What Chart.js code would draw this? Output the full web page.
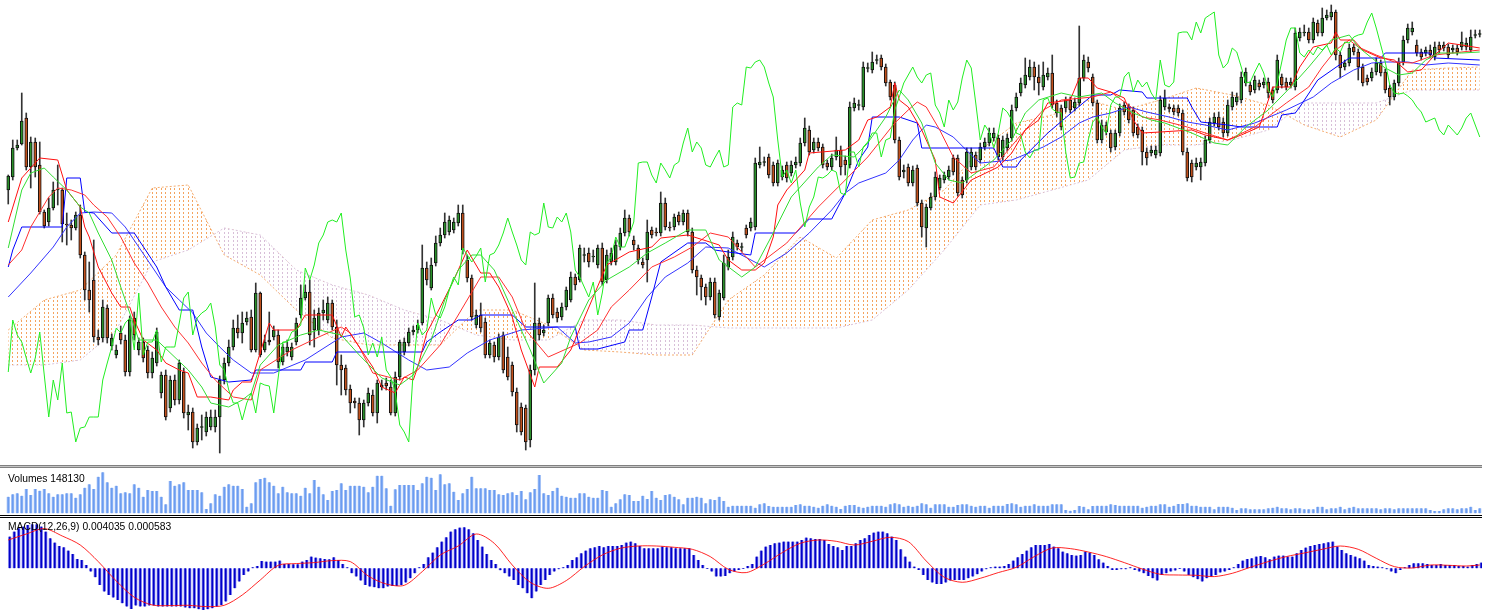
<!DOCTYPE html>
<html><head><meta charset="utf-8">
<script src="https://cdn.jsdelivr.net/npm/chart.js@4.4.1/dist/chart.umd.min.js"></script>
<style>
html,body{margin:0;padding:0;background:#fff;}
#wrap{position:relative;width:1493px;height:613px;overflow:hidden;background:#fff;}
canvas{position:absolute;left:0;}
.sep{position:absolute;left:0;width:1482px;height:1px;}
.lbl{position:absolute;left:8px;font:10.3px "Liberation Sans",Arial,sans-serif;color:#000;white-space:nowrap;z-index:5;line-height:12px;}
</style></head><body>
<div id="wrap">
<canvas id="main" width="1482" height="463" style="top:0"></canvas>
<div class="sep" style="top:465px;background:#808080"></div>
<div class="sep" style="top:466px;background:#c4c4c4"></div>
<div class="sep" style="top:467px;background:#808080"></div>
<canvas id="vol" width="1482" height="46" style="top:468px"></canvas>
<div class="sep" style="top:515px;background:#000"></div>
<div class="sep" style="top:517px;background:#000"></div>
<canvas id="macd" width="1482" height="95" style="top:518px"></canvas>
<div class="lbl" style="top:473px">Volumes 148130</div>
<div class="lbl" style="top:521px">MACD(12,26,9) 0.004035 0.000583</div>
</div>
<script>
const N = 328;
const opens = [
310,323,352,356,382,333,358,335,288,278, 292,310,310,276,275,272,285,245,210,220,
163,162,192,154,145,167,160,128,182,150, 158,150,127,137,107,125,92,120,100,128,
85,88,58,73,68,73,73,83,120,137, 153,172,167,178,183,150,207,150,160,163,
165,138,148,143,158,185,202,208,170,170, 187,180,197,173,135,132,111,99,97,80,
97,105,87,113,117,113,87,123,148,157, 168,170,177,232,212,237,257,265,268,270,
277,287,240,222,175,185,178,145,155,143, 165,143,135,108,93,92,60,130,177,167,
177,202,188,183,193,200,223,220,245,247, 243,235,252,220,238,238,253,267,282,260,
252,238,240,270,268,267,297,273,273,285, 278,287,268,230,222,213,203,218,183,202,
233,243,257,253,272,272,273,335,338,343, 335,317,323,335,327,335,337,357,370,350,
358,353,337,333,343,350,340,335,392,395, 393,432,430,440,442,433,418,415,360,328,
333,317,332,297,272,292,303,312,320,323, 342,342,320,320,333,345,340,353,357,362,
362,343,352,362,392,407,415,423,433,423, 413,423,427,397,392,392,400,392,397,422,
438,423,397,360,375,367,353,367,395,393, 390,373,370,348,347,345,347,393,393,392,
392,387,348,337,333,333,337,360,377,383, 378,367,393,398,400,417,415,410,417,415,
418,410,410,423,418,415,413,462,467,468, 460,477,467,482,483,488,445,433,437,453,
448,433,422,422,428,437,428,412,403,417, 438,460,468,455,448,447,450,443,455,452,
453,450,452,453,453,450,465,466];
const closes = [
324,352,355,379,333,358,333,288,274,292, 310,311,276,275,272,285,245,210,200,163,
160,193,162,162,150,160,128,180,165,158, 142,127,142,168,125,83,120,100,137,87,
88,58,72,73,83,83,83,120,137,153, 172,167,177,182,150,207,145,158,158,170,
138,153,153,153,177,202,208,165,182,187, 190,197,173,135,130,110,97,97,80,97,
107,87,117,115,114,87,123,158,158,168, 170,175,232,220,235,257,265,278,280,278,
287,250,222,183,185,172,145,157,143,163, 130,123,108,75,68,58,130,177,165,170,
202,185,182,193,210,223,215,252,245,238, 244,252,218,245,247,255,267,282,268,255,
240,235,268,265,267,297,273,272,283,278, 287,268,230,223,213,203,218,185,207,237,
243,263,253,253,265,278,337,338,338,325, 317,337,330,322,335,338,357,372,348,358,
352,335,333,342,350,333,335,393,397,395, 433,432,438,440,433,417,403,360,323,330,
317,330,297,273,293,303,323,322,325,330, 328,307,305,348,348,333,353,358,367,367,
343,360,362,390,403,417,425,433,423,417, 425,427,395,387,373,400,390,398,422,440,
432,397,360,375,368,352,367,392,388,380, 367,365,348,342,350,350,400,402,391,388,
387,348,322,323,337,338,360,378,383,373, 367,395,403,403,423,428,408,420,413,418,
407,400,440,415,413,418,467,468,468,460, 478,467,482,485,488,445,432,437,452,448,
433,417,418,428,437,427,410,403,417,438, 460,472,472,447,443,450,445,453,450,455,
445,452,448,458,457,463,465,466];
const highs = [
325,360,360,407,387,363,362,358,290,302, 318,335,312,287,280,288,295,248,238,260,
170,200,195,166,155,174,165,184,188,162, 162,154,148,172,128,130,124,125,140,132,
95,92,76,85,88,90,90,124,142,160, 180,185,188,188,190,217,208,165,188,174,
170,156,160,157,182,215,215,220,190,192, 200,203,200,180,145,135,115,102,102,100,
112,110,120,120,122,120,128,160,162,172, 174,180,255,238,242,264,272,287,284,282,
295,295,245,225,190,197,182,160,158,166, 168,153,138,112,97,95,135,217,182,175,
205,206,192,197,213,228,226,255,252,252, 250,255,257,250,252,260,272,290,285,264,
255,242,280,273,272,308,302,278,286,288, 290,290,272,234,225,216,222,222,210,245,
250,268,260,257,275,282,342,353,343,346, 338,340,334,338,339,343,362,382,374,362,
362,356,340,346,363,354,344,398,402,400, 438,437,448,445,445,436,420,418,363,335,
336,334,335,300,296,307,328,325,328,334, 345,345,323,352,352,348,357,362,372,372,
365,364,366,395,407,422,442,440,438,435, 438,432,445,400,395,403,403,402,474,445,
443,426,400,380,378,370,370,396,398,396, 393,376,373,352,354,354,404,410,396,395,
395,390,352,340,342,342,364,382,387,388, 382,400,408,407,428,432,418,424,420,422,
422,413,445,426,422,422,472,472,475,472, 482,480,492,490,495,490,448,440,456,456,
451,436,425,432,442,440,431,415,420,442, 464,476,478,460,451,453,455,458,458,458,
456,455,455,468,462,470,470,470];
const lows = [
296,320,350,355,330,312,323,286,272,274, 290,295,258,255,260,270,242,200,188,158,
155,158,157,150,142,156,124,124,160,145, 138,122,122,134,102,80,88,95,96,82,
70,52,55,60,64,70,68,47,116,134, 150,162,157,175,148,148,143,148,155,160,
132,135,144,140,155,182,200,155,153,165, 180,177,170,115,105,105,87,92,65,73,
94,84,77,110,110,85,84,120,145,154, 165,167,175,215,210,234,254,262,265,267,
274,246,218,180,172,168,142,142,138,140, 127,120,104,68,65,50,53,125,160,164,
174,182,178,180,190,198,210,218,238,233, 238,232,215,217,235,235,250,264,264,250,
236,232,218,262,264,264,270,269,270,275, 275,264,227,205,200,195,200,182,180,200,
230,240,250,248,262,269,270,332,334,322, 314,314,320,318,324,332,334,354,345,347,
349,332,330,330,340,325,325,332,389,390, 390,428,427,436,430,414,400,357,320,322,
314,314,294,263,253,290,300,310,317,320, 325,304,302,317,330,330,337,350,354,359,
340,340,349,359,389,404,412,420,410,405, 410,420,392,383,370,388,387,389,394,419,
428,394,357,357,365,348,350,364,385,377, 364,362,335,335,344,342,344,390,388,385,
384,345,319,318,330,320,334,357,374,370, 363,364,390,395,397,414,405,407,410,412,
402,397,407,412,410,412,410,459,464,457, 457,464,464,480,480,440,422,430,434,445,
420,414,415,419,425,424,407,395,400,414, 435,457,465,444,440,444,442,440,447,449,
442,447,445,450,450,448,462,463];
// Chikou span (lagging line)
const chikou = [
128,180,165,158, 142,127,142,168,125,83,120,100,137,87,
88,58,72,73,83,83,83,120,137,153, 172,167,177,182,150,207,145,158,158,170,
138,153,153,153,177,202,208,165,182,187, 190,197,173,135,130,110,97,97,80,97,
107,87,117,115,114,87,123,158,158,168, 170,175,232,220,235,257,265,278,280,278,
287,250,222,183,185,172,145,157,143,163, 130,123,108,75,68,58,130,177,165,170,
202,185,182,193,210,223,215,252,245,238, 244,252,218,245,247,255,267,282,268,255,
240,235,268,265,267,297,273,272,283,278, 287,268,230,223,213,203,218,185,207,237,
243,263,253,253,265,278,337,338,338,325, 317,337,330,322,335,338,357,372,348,358,
352,335,333,342,350,333,335,393,397,395, 433,432,438,440,433,417,403,360,323,330,
317,330,297,273,293,303,323,322,325,330, 328,307,305,348,348,333,353,358,367,367,
343,360,362,390,403,417,425,433,423,417, 425,427,395,387,373,400,390,398,422,440,
432,397,360,375,368,352,367,392,388,380, 367,365,348,342,350,350,400,402,391,388,
387,348,322,323,337,338,360,378,383,373, 367,395,403,403,423,428,408,420,413,418,
407,400,440,415,413,418,467,468,468,460, 478,467,482,485,488,445,432,437,452,448,
433,417,418,428,437,427,410,403,417,438, 460,472,472,447,443,450,445,453,450,455,
445,452,448,458,457,463,465,466,
478,487,472,455,438,415,407,406,407,404,400,393,388,378,380,382,370,365,375,370,365,372,382,387,375,363];

// Indicator lines: vertices (bar index, value)
const tenkanIdx = [0,3,7,11,13,16,17,18,20,23,25,27,28,30,33,35,38,40,42,45,49,50,52,54,58,59,64,66,72,74,75,81,83,86,88,90,91,93,96,99,102,105,107,109,112,114,117,118,122,125,133,138,143,145,151,158,160,163,166,168,170,171,173,177,178,186,189,191,193,196,197,198,200,203,206,207,210,214,220,223,226,229,231,236,238,240,242,245,248,250,252,256,263,266,271,274,278,281,285,287,290,294,295,296,299,301,305,308,311,314,317,320,323,327];
const tenkan = [278,322,342,340,310,293,273,263,233,207,193,193,180,160,150,137,130,127,103,103,100,110,118,118,177,170,170,185,185,163,173,133,113,107,123,120,133,167,193,220,250,227,227,213,183,150,113,133,133,150,235,248,253,262,265,255,240,230,230,237,263,295,310,330,347,350,360,380,383,393,417,400,393,370,340,303,297,320,333,347,370,380,397,400,422,422,412,408,402,380,367,368,370,365,360,365,373,413,413,433,453,457,468,460,460,450,442,440,428,430,445,457,455,452];
const kijunIdx = [0,1,3,12,13,16,17,19,23,28,33,35,38,41,43,45,49,54,55,65,66,72,73,92,93,96,100,103,105,112,115,126,127,131,137,138,141,143,145,151,155,157,160,165,166,175,178,183,186,189,191,192,198,202,203,219,221,224,225,231,237,241,245,247,252,253,262,263,265,271,274,282,283,286,287,291,298,305,306,316,317,327];
const kijun = [233,250,273,273,322,322,288,287,267,267,233,213,190,190,153,123,118,120,130,130,138,138,148,148,158,168,180,180,185,185,173,173,151,151,158,170,170,203,238,257,257,250,248,245,267,267,281,281,307,340,353,383,383,377,352,352,333,333,340,367,390,405,405,410,408,402,402,393,378,375,373,373,385,387,393,420,442,442,447,447,442,440];
const maGreenIdx = [0,3,5,8,10,13,16,18,20,23,25,27,29,33,40,43,45,49,52,54,56,60,65,69,74,78,83,87,90,94,97,100,103,105,108,112,116,119,123,125,129,133,138,142,146,151,155,158,163,166,170,174,180,183,188,191,195,198,200,203,206,209,212,219,223,226,229,234,238,243,246,250,254,257,263,268,271,275,280,285,289,294,298,300,303,306,309,312,315,318,323,327];
const maGreen = [252,310,327,332,323,310,293,287,267,240,213,187,160,160,130,113,97,93,100,107,135,155,165,170,165,145,122,115,125,160,200,230,245,245,230,190,150,117,137,163,200,220,233,247,257,270,270,240,223,233,267,303,333,345,343,357,383,410,400,377,337,320,317,340,360,387,400,407,403,407,397,387,380,377,367,357,355,373,390,413,433,460,465,453,442,432,425,427,440,447,447,448];
const maRedIdx = [0,3,5,9,11,14,17,19,22,25,28,31,34,37,40,43,46,50,54,56,63,69,74,76,78,81,87,91,96,100,105,109,112,115,120,127,131,134,138,143,148,152,156,160,166,173,180,186,191,197,200,202,204,207,210,214,219,226,230,234,241,245,249,252,256,262,266,271,277,284,289,292,295,298,300,304,308,312,317,321,327];
const maRed = [235,250,273,303,312,310,305,295,283,263,237,217,193,173,157,137,120,103,100,130,150,163,173,167,153,127,120,130,155,185,223,223,203,170,143,157,170,193,210,233,243,253,267,263,233,257,293,320,343,377,390,398,393,370,343,327,333,370,390,400,403,408,395,383,380,373,367,360,373,397,413,433,450,460,453,445,438,437,445,447,450];
const maBlueIdx = [0,5,10,13,16,19,23,26,29,32,35,38,41,44,47,50,54,59,66,74,79,83,89,93,98,102,107,114,122,126,129,134,138,142,146,151,155,160,168,173,178,183,186,189,195,198,201,204,206,210,214,216,223,230,234,238,241,245,249,253,258,262,266,271,277,284,290,294,299,303,306,311,315,320,327];
const maBlue = [203,227,253,273,287,288,287,273,253,233,213,200,187,167,153,140,127,127,140,163,167,157,140,130,133,147,160,170,173,157,158,163,177,203,223,237,253,252,233,247,267,290,307,317,327,340,360,375,373,363,345,337,340,353,363,377,383,387,393,388,383,378,375,370,377,390,403,417,430,437,438,438,435,437,435];
// Ichimoku cloud spans, sampled every 8 bars (+ last bar)
const spanIdx = [0,8,16,24,32,40,48,56,64,72,80,88,96,104,112,120,128,136,144,152,160,168,176,184,192,200,208,216,224,232,240,248,256,264,272,280,288,296,304,312,320,327];
const spanA = [170,200,210,245,312,315,245,225,190,162,155,155,155,190,190,175,150,148,145,145,200,225,263,242,280,290,310,350,377,385,400,390,400,412,405,395,375,363,380,430,432,433];
const spanB = [135,135,140,170,238,250,272,265,230,215,205,190,180,165,160,160,180,180,175,175,172,172,172,172,180,210,250,295,300,310,320,350,355,355,360,370,397,397,397,410,410,410];

const volumes = [
500,570,600,530,730,550,730,680,730,600, 500,570,570,600,600,470,570,770,870,730,
1100,1230,930,770,830,600,630,600,870,770, 500,700,670,670,500,270,970,830,870,930,
700,700,700,630,130,300,570,530,800,870, 830,830,730,200,300,930,1030,1070,930,830,
600,800,630,600,600,530,770,600,1000,800, 570,400,670,700,900,700,830,830,830,800,
630,800,1130,1130,750,230,720,850,850,850, 850,700,900,1100,1070,700,1170,870,900,650,
400,600,730,1100,750,750,750,700,700,570,
550,600,630,550,670,420,630,730,1150,600, 550,670,770,530,500,470,470,600,600,500,
470,470,700,670,200,300,420,570,550,370, 370,530,430,670,470,400,550,570,500,420,
270,470,470,500,470,300,420,400,500,370, 200,
230,230,230,230,230,170,270,300,220,200, 200,200,200,200,250,270,230,230,200,170,
230,270,230,200,130,230,250,250,200,170, 200,230,230,230,200,270,300,270,200,230,
200,230,300,270,170,270,270,270,200,200, 250,270,270,230,200,230,230,170,230,230,
230,280,300,270,200,230,230,270,230,230, 230,270,270,270,100,80,100,220,200,120,
220,230,230,230,270,250,230,230,230,230, 230,170,200,230,230,270,270,200,230,280,
280,300,230,230,200,200,200,120,200,200, 200,170,100,150,150,120,120,120,120,150,
170,200,150,150,120,150,150,120,120,120, 200,200,120,150,150,200,120,170,200,150,
150,150,150,150,120,150,150,120,150,150, 150,150,150,150,150,100,70,70,120,150,
150,120,150,150,200,100,150];

const macdHist = [
31.7,36.7,40,41.7,43.3,44,44,41.7,36.7,30, 25.7,22.3,21,17.7,14.3,9.3,8.3,3.3,-3.3,-9,
-16.7,-23.3,-26.7,-29.3,-31.7,-35,-38.3,-40.7,-37.3,-38.3, -38.3,-37.3,-37.3,-38.3,-38.3,-38.3,-38.3,-38.3,-38.3,-39.3,
-40,-40,-41,-41.7,-41,-40,-38.3,-36.7,-33.3,-26.7, -20,-13.3,-6.7,-3.3,1,2.3,7.3,6.7,6.7,6.7,
7.7,4.3,4.3,4,4,6.7,8.3,11.7,10.7,10, 9.3,9,11,8.3,4.3,1,-5,-8.3,-12.3,-16.7,
-18.3,-19,-20,-20,-18.3,-17.7,-17.7,-16.7,-14.3,-10, -5,1,4.3,11,15.7,21,26.7,31,36.7,39,
40.7,41,39,35,28.3,21.7,14.3,8.3,4.3,-2,
-5,-8.3,-11.7,-16.7,-20,-25,-30,-23.3,-16.7,-11.7, -6.7,-3.3,-1,1,3.3,8.3,11,15,17.7,20,
21,22.3,21,22.3,22.3,22.3,23.3,25.7,26.7,25, 22.3,20,20,20,20,21.7,21,21,20,20,
20,20,13.3,8.3,3.3,-0.7,-3.3,-8.3,-8.3,-7.7, -5,-3.3,-1.7,-0.7,2.3,4.3,11.7,17.7,21.7,23.3,
25,25.7,26.7,26.7,26.7,26.7,28.3,30.7,30,29.3, 29.3,28.3,24.3,22.3,21,18.3,22.3,22.3,25,28.3,
30,33.3,35.7,36.7,36.7,35,31.7,28.3,19,11.7, 6.7,1.7,-1.7,-6.7,-11.7,-14.3,-15.7,-15.7,-14.3,-12.3,
-11.7,-11.7,-11.7,-10,-8.3,-6,-3.3,-1,1,1.7, 1.7,
2.3,4.3,7.7,11,14.3,17.7,21,23.3,23.3,23.3, 24.3,21.7,20,16.7,15,13.3,12.7,13.3,16.7,15.7,
13.3,9,5.7,2.3,-1.7,-1.7,-1,-1,1,-1.7, -3.3,-5,-7.7,-10,-12.3,-6.7,-5,-3.3,-2.3,-0.7,
-3.3,-6.7,-9,-11,-13.3,-10,-8.3,-6.7,-4.3,-3.3, -1.7,1,4.3,7.7,9.3,10,11.7,12.3,11,9,
11.7,12.7,12.7,11.7,11.7,15,18.3,20.7,22.3,23.3, 24.3,25,26,26.7,21.7,18.3,15,13.3,11.7,10,
7.7,3.3,2.3,1.7,1,-1,-3.3,-5,-1.7,1, 3.3,5,5,5,4.3,3.3,3.3,4.3,3.3,3.3,
3.3,2.3,2.3,1.7,3.3,4.3,5.7];
const signalIdx = [0,4,8,12,16,20,24,28,32,36,40,44,48,52,56,60,64,68,72,76,80,84,88,92,96,100,104,108,112,116,120,124,128,132,136,140,144,148,152,156,160,164,168,172,176,180,184,188,192,196,200,204,208,212,216,220,224,228,232,236,240,244,248,252,256,260,264,268,272,276,280,284,288,292,296,300,304,308,312,316,320,324,327];
const macdSignal = [28.3,34.3,39.7,32.3,23.3,6.7,-12.7,-29,-36.7,-37.3,-37,-38.3,-37,-26.7,-11.7,3,4.7,5.7,7.7,6.7,-7.7,-15.7,-17,-3.3,13.3,22.3,34.3,25,3.3,-14,-20,-12.3,1.7,13.3,20,22.3,22.3,21,19,11.7,-1,-4.3,4.3,15.7,25,28.3,27,23.3,27,31,26.7,7.3,-9,-14,-10,-4.3,1,11.7,20.3,19.7,16.3,11.7,5.7,-0.7,-6,-6.7,-7,-8.3,-5,1,6.7,11.7,15.3,19,22.3,19,10,1.7,0.3,3.3,3,2.3,3.3];

const labels = opens.map((_, i) => String(i));
const pts = (idx, vals) => idx.map((ix, k) => ({x: ix, y: vals[k]}));
const allIdx = opens.map((_, i) => i);

function hatch(color) {
  const c = document.createElement('canvas'); c.width = 9; c.height = 4;
  const g = c.getContext('2d'); g.fillStyle = color;
  g.fillRect(3, 0, 1, 2); g.fillRect(8, 0, 1, 2);
  return g.createPattern(c, 'repeat');
}

const UP = '#2a8f2a', DN = '#c0501c';
const xCat = {type: 'category', display: false, offset: true, grid: {display: false}};
const xLin = {type: 'linear', display: false, min: -0.5, max: N - 0.5, offset: false, grid: {display: false}};
const base = {
  responsive: false, animation: false, devicePixelRatio: 1, events: [],
  layout: {padding: {left: 6, right: 0, top: 0, bottom: 0}},
  plugins: {legend: {display: false}, tooltip: {enabled: false}}
};
const lineDs = (label, data, color, order, extra) => Object.assign({
  type: 'line', label, data, xAxisID: 'xl', borderColor: color, borderWidth: 1,
  pointRadius: 0, tension: 0, fill: false, order
}, extra || {});

const bodies = opens.map((o, i) => Math.abs(closes[i] - o) < 0.6 ? [o - 0.5, o + 0.5] : [o, closes[i]]);
const bodyColors = opens.map((o, i) => closes[i] >= o ? UP : DN);
const wicks = lows.map((l, i) => [l, highs[i]]);

const mainDatasets = [
  lineDs('Chikou', pts(allIdx, chikou), '#22ee22', 1),
  lineDs('MA fast', pts(maGreenIdx, maGreen), '#33dd33', 2),
  lineDs('Tenkan', pts(tenkanIdx, tenkan), '#ff1010', 3),
  lineDs('MA mid', pts(maRedIdx, maRed), '#ff3030', 4),
  lineDs('Kijun', pts(kijunIdx, kijun), '#0000ff', 5),
  lineDs('MA slow', pts(maBlueIdx, maBlue), '#3333ff', 6),
  {type: 'bar', label: 'Body', data: bodies, xAxisID: 'x', backgroundColor: bodyColors, borderColor: '#111',
   borderWidth: 1, borderSkipped: false, barThickness: 3, grouped: false, order: 8},
  {type: 'bar', label: 'Wick', data: wicks, xAxisID: 'x', backgroundColor: '#333', borderWidth: 0,
   barThickness: 1, grouped: false, order: 9},
  lineDs('Senkou A', pts(spanIdx, spanA), 'rgba(244,164,96,0.9)', 10,
    {borderDash: [2, 2], fill: {target: 9, above: hatch('#f4a460'), below: hatch('#d8bfd8')}}),
  lineDs('Senkou B', pts(spanIdx, spanB), 'rgba(216,191,216,0.95)', 11, {borderDash: [2, 2]})
];

new Chart(document.getElementById('main'), {
  data: {labels, datasets: mainDatasets},
  options: Object.assign({}, base, {
    scales: {x: xCat, xl: xLin, y: {display: false, min: 37, max: 500}}
  })
});

new Chart(document.getElementById('vol'), {
  data: {labels, datasets: [
    {type: 'bar', label: 'Volumes', data: volumes, backgroundColor: '#6b9cf0', borderColor: '#a9c5f7',
     borderWidth: {left: 1, right: 1, top: 0, bottom: 0}, borderSkipped: false, barThickness: 3}
  ]},
  options: Object.assign({}, base, {
    scales: {x: xCat, y: {display: false, min: -21, max: 1360}}
  })
});

new Chart(document.getElementById('macd'), {
  data: {labels, datasets: [
    lineDs('Signal', pts(signalIdx, macdSignal), 'rgba(255,0,0,0.85)', 1, {tension: 0.3}),
    {type: 'bar', label: 'MACD', data: macdHist, backgroundColor: '#0000c8', borderColor: '#8c8cf0',
     borderWidth: {left: 1, right: 1, top: 0, bottom: 0}, borderSkipped: false, barThickness: 3, order: 2}
  ]},
  options: Object.assign({}, base, {
    scales: {x: xCat, xl: xLin, y: {display: false, min: -44.7, max: 50.3}}
  })
});
</script>
</body></html>
